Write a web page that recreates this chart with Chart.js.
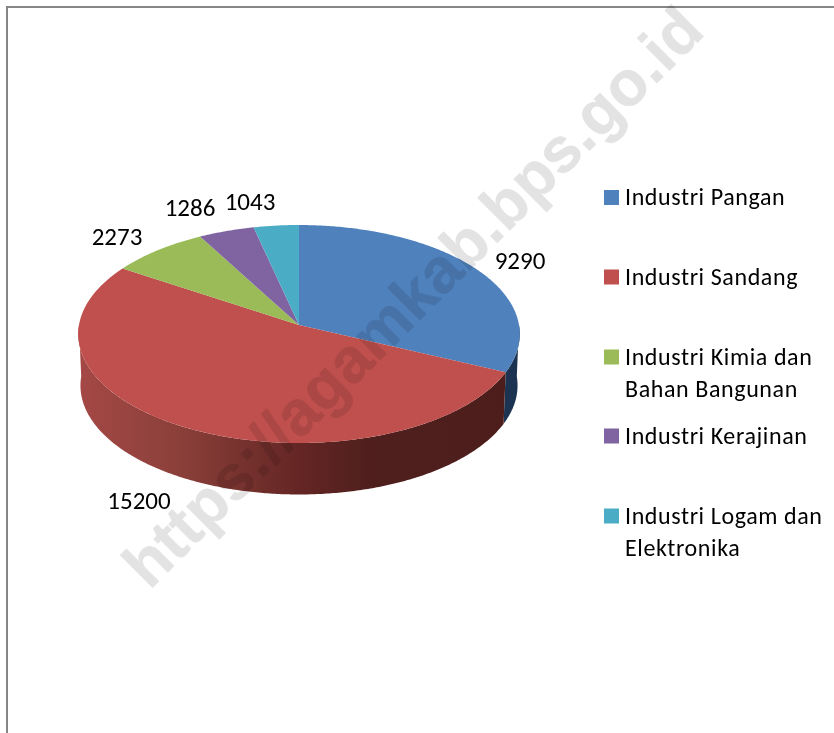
<!DOCTYPE html>
<html><head><meta charset="utf-8">
<style>html,body{margin:0;padding:0;background:#fff}canvas{display:block}</style>
<script src="https://cdn.jsdelivr.net/npm/chart.js@4/dist/chart.umd.min.js"></script>
</head><body>
<canvas id="c" width="834" height="733"></canvas>
<script>
const categories = ["Industri Pangan","Industri Sandang","Industri Kimia dan Bahan Bangunan","Industri Kerajinan","Industri Logam dan Elektronika"];
const legendLines = [["Industri Pangan"],["Industri Sandang"],["Industri Kimia dan","Bahan Bangunan"],["Industri Kerajinan"],["Industri Logam dan","Elektronika"]];
const values = [9290,15200,2273,1286,1043];
const colors = ["#4F81BD","#C0504D","#9BBB59","#8064A2","#4BACC6"];
const watermark = "https://agamkab.bps.go.id";

const FONT = 'Carlito, Lato, sans-serif';
const LABEL_POS = [[520,263],[139,503],[117,239],[190,210],[250,204]];
const LEGEND_Y = [197.5,277,357,436,516];
const LINE_H = 32;
const PA = -81.4, PC = 0.0826, DEPTH = 51.5;

function project(arc, theta, scaleR){
  const u = Math.cos(theta)*scaleR, v = -Math.sin(theta)*scaleR, d = PC*v+1;
  return [arc.x + arc.outerRadius*u/d, (PA*v + arc.y)/d];
}
function rim(arc, a, b){
  const n = Math.max(2, Math.ceil(Math.abs(b-a)/0.01)), pts=[];
  for(let i=0;i<=n;i++) pts.push(project(arc, a+(b-a)*i/n, 1));
  return pts;
}
const bottom = (arc,p)=>[arc.x+(p[0]-arc.x)*0.99, p[1]+DEPTH];

const pie3d = {
  id:'pie3d',
  beforeDraw(chart){
    const c=chart.ctx;
    c.save(); c.fillStyle='#fff'; c.fillRect(0,0,chart.width,chart.height);
    c.fillStyle='#868686'; c.fillRect(6,6,chart.width-6,2); c.fillRect(6,6,2,chart.height-6); c.restore();
  },
  beforeDatasetDraw(chart){
    const c=chart.ctx, arcs=chart.getDatasetMeta(0).data;
    const grad=(stops)=>{const g=c.createLinearGradient(78,0,521,0);stops.forEach(s=>g.addColorStop(s[0],s[1]));return g;};
    const wallFill=[
      grad([[0,'#2A4A75'],[0.9,'#1E3656'],[1,'#1B3350']]),
      grad([[0,'#A44846'],[0.22,'#8C403A'],[0.5,'#642624'],[0.66,'#4F1F1D'],[1,'#4C1E1B']]),
    ];
    const lo=0, hi=Math.PI;
    arcs.forEach((arc,i)=>{
      const s=Math.max(arc.startAngle,lo), e=Math.min(arc.endAngle,hi);
      if(e<=s) return;
      const top=rim(arc,s,e);
      c.beginPath();
      top.forEach((p,k)=>k?c.lineTo(p[0],p[1]):c.moveTo(p[0],p[1]));
      top.slice().reverse().forEach(p=>{const q=bottom(arc,p);c.lineTo(q[0],q[1]);});
      c.closePath();
      c.fillStyle=wallFill[i]||colors[i]; c.fill();
    });
    arcs.forEach((arc,i)=>{
      c.beginPath(); c.moveTo(arc.x,arc.y);
      rim(arc,arc.startAngle,arc.endAngle).forEach(p=>c.lineTo(p[0],p[1]));
      c.closePath();
      c.fillStyle=arc.options.backgroundColor; c.fill();
    });
    return false;
  },
  afterDraw(chart){
    const c=chart.ctx;
    c.save();
    c.fillStyle='#000'; c.textBaseline='middle'; c.textAlign='center';
    c.font='25px '+FONT;
    values.forEach((v,i)=>c.fillText(String(v),LABEL_POS[i][0],LABEL_POS[i][1]));
    c.textAlign='left';
    c.font='24px '+FONT;
    c.letterSpacing='0.6px';
    legendLines.forEach((lines,i)=>{
      c.fillStyle=colors[i]; c.fillRect(604,LEGEND_Y[i]-7.5,15,15);
      c.fillStyle='#000';
      lines.forEach((t,k)=>c.fillText(t,625,LEGEND_Y[i]+1.5+k*LINE_H));
    });
    c.letterSpacing='0px';
    c.restore();
    const off=document.createElement('canvas'); off.width=chart.width; off.height=chart.height;
    const o=off.getContext('2d');
    o.translate(428,312); o.rotate(-Math.PI/4);
    o.font='bold 63px "Liberation Sans", Arial, sans-serif';
    o.textAlign='center'; o.textBaseline='alphabetic'; o.fillStyle='#000'; o.strokeStyle='#000'; o.lineWidth=0.8; o.lineJoin='round';
    o.letterSpacing='0.3px';
    o.fillText(watermark,0,0); o.strokeText(watermark,0,0);
    c.save(); c.globalAlpha=0.105; c.drawImage(off,0,0); c.restore();
  }
};

new Chart(document.getElementById('c'),{
  type:'pie',
  data:{labels:categories,datasets:[{data:values,backgroundColor:colors,borderWidth:0}]},
  options:{
    responsive:false,animation:false,radius:220,
    layout:{padding:{left:0,top:0,right:236,bottom:83}},
    plugins:{legend:{display:false},tooltip:{enabled:false}}
  },
  plugins:[pie3d]
});
</script>
</body></html>
